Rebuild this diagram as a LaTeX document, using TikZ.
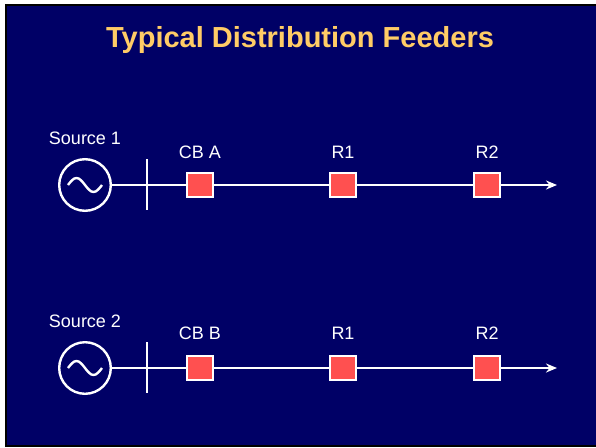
\documentclass[tikz,border=0pt]{standalone}
\usepackage{fontspec}
\setmainfont{Liberation Sans}
\usetikzlibrary{arrows.meta}
\definecolor{slidebg}{HTML}{000066}
\definecolor{titlecol}{HTML}{FFCC66}
\definecolor{breakred}{HTML}{FF5050}
\begin{document}
\begin{tikzpicture}[x=1pt, y=-1pt, breaker/.style={rectangle, draw=white,
      fill=breakred, line width=2.4pt, minimum width=25.6pt, minimum
      height=23.6pt, inner sep=0pt}, gen/.style={circle, draw=white,
      line width=2.4pt, minimum size=51.6pt, inner sep=0pt},
    lbl/.style={text=white, font=\fontsize{18}{21}\selectfont}]
    \useasboundingbox (0,0) rectangle (596,447);
    \fill[black] (5,4) rectangle (596,447);
    \fill[slidebg] (7,6) rectangle (596,445);
    \node[text=titlecol, font=\bfseries\fontsize{29}{33}\selectfont]
    (title) at (300,40) {Typical Distribution Feeders};
    \begin{scope}
      \node[gen] (g) at (85,185) {}; \node[breaker] (cb) at (200,185)
      {}; \node[breaker] (r1) at (343,185) {}; \node[breaker] (r2) at
      (487,185) {};
      \coordinate (bt) at (147,159); \coordinate (bb) at (147,210);
      \coordinate (end) at (557,185);
      \begin{scope}[every node/.style={lbl}]
        \node (gl) at (85,138) {Source 1}; \node (cbl) at (200,152)
        {CB A}; \node (r1l) at (343,152) {R1}; \node (r2l) at (487,152)
        {R2};
      \end{scope}
      \begin{scope}[white, line width=2.4pt, ->, >={Stealth[length=11pt,
          width=9pt]}]
        \draw[-] (bt) to (bb); \draw[-] (g) to (cb); \draw[-] (cb) to
        (r1); \draw[-] (r1) to (r2); \draw (r2) to (end);
        \draw[-] ([xshift=-17pt]g.center) sin ++(8.5,-7) cos ++(8.5,7)
        sin ++(8.5,7) cos ++(8.5,-7);
      \end{scope}
    \end{scope}
    \begin{scope}[yshift=-183pt]
      \node[gen] (g) at (85,185) {}; \node[breaker] (cb) at (200,185)
      {}; \node[breaker] (r1) at (343,185) {}; \node[breaker] (r2) at
      (487,185) {};
      \coordinate (bt) at (147,159); \coordinate (bb) at (147,210);
      \coordinate (end) at (557,185);
      \begin{scope}[every node/.style={lbl}]
        \node (gl) at (85,138) {Source 2}; \node (cbl) at (200,150)
        {CB B}; \node (r1l) at (343,150) {R1}; \node (r2l) at (487,150)
        {R2};
      \end{scope}
      \begin{scope}[white, line width=2.4pt, ->, >={Stealth[length=11pt,
          width=9pt]}]
        \draw[-] (bt) to (bb); \draw[-] (g) to (cb); \draw[-] (cb) to
        (r1); \draw[-] (r1) to (r2); \draw (r2) to (end);
        \draw[-] ([xshift=-17pt]g.center) sin ++(8.5,-7) cos ++(8.5,7)
        sin ++(8.5,7) cos ++(8.5,-7);
      \end{scope}
    \end{scope}
  \end{tikzpicture}
\end{document}
